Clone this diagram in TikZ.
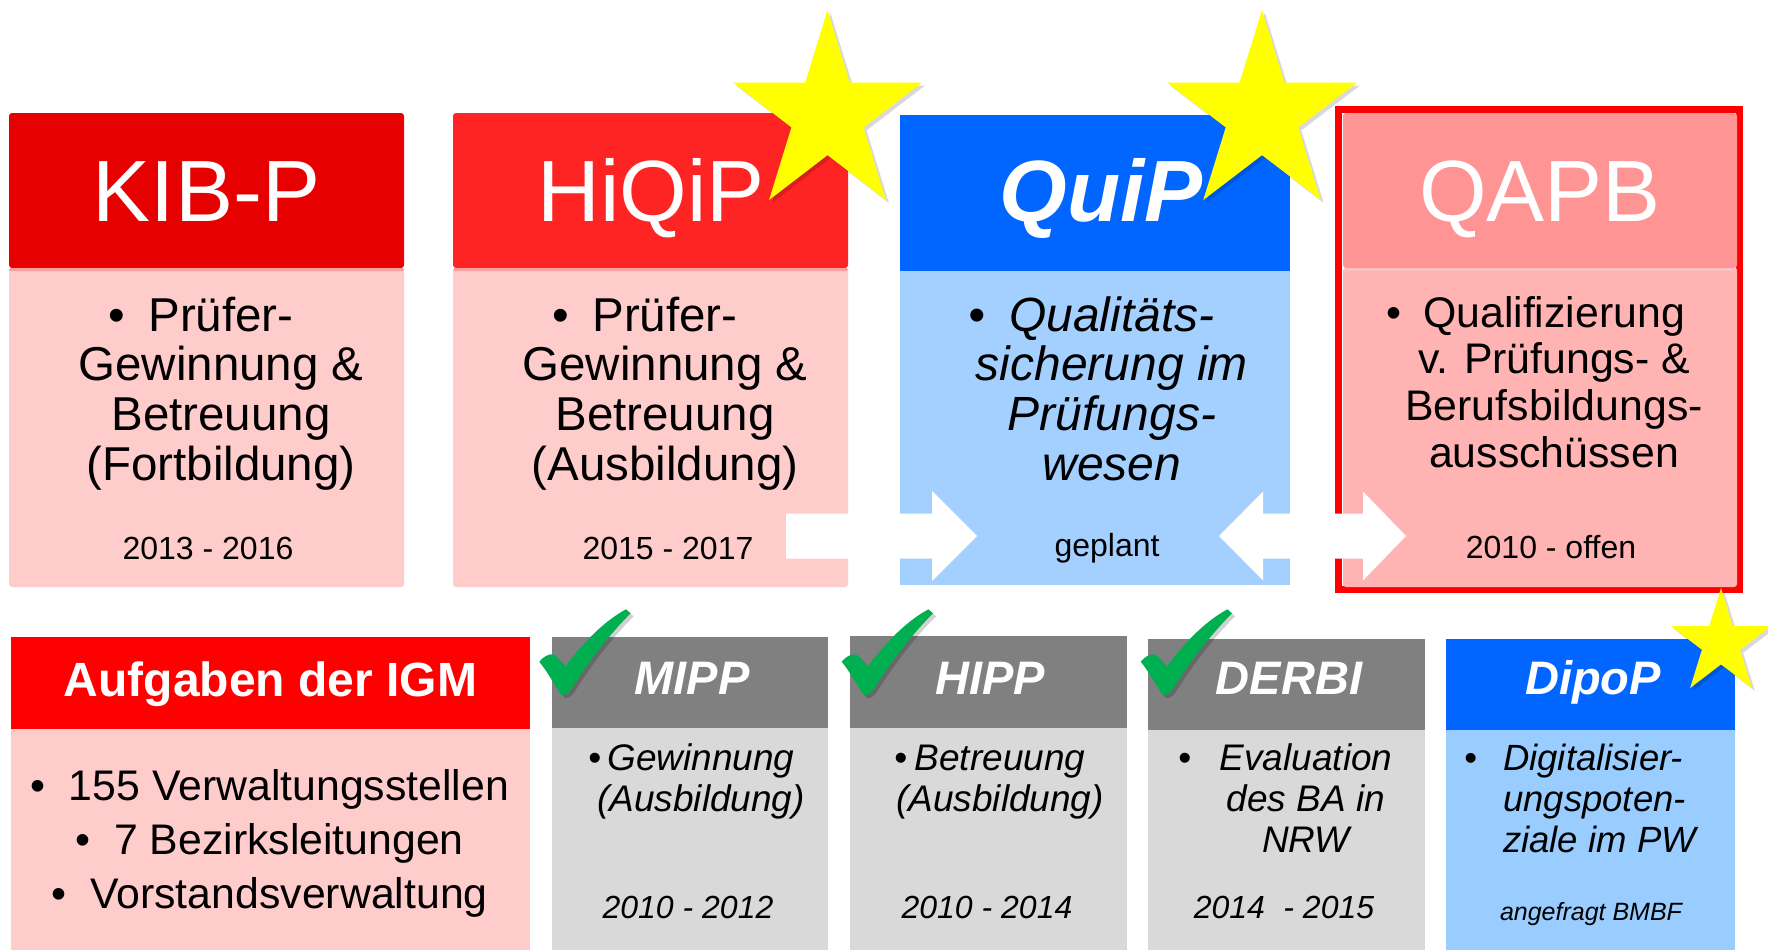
\documentclass[tikz,border=0pt]{standalone}
\usepackage{fontspec}
\setmainfont{Liberation Sans}
\usetikzlibrary{calc}
\definecolor{cKibH}{HTML}{E60000}
\definecolor{cPink}{HTML}{FFCCCC}
\definecolor{cHiqH}{HTML}{FF2424}
\definecolor{cStrip}{HTML}{F6A0A0}
\definecolor{cBlue}{HTML}{0066FF}
\definecolor{cQuipB}{HTML}{A4D0FF}
\definecolor{cDipB}{HTML}{99CCFF}
\definecolor{cQapH}{HTML}{FF9494}
\definecolor{cQapB}{HTML}{FFB3B3}
\definecolor{cQapStrip}{HTML}{FFC2C2}
\definecolor{cRed}{HTML}{FF0000}
\definecolor{cGrayH}{HTML}{808080}
\definecolor{cGrayB}{HTML}{D9D9D9}
\definecolor{cStar}{HTML}{FFFF00}
\definecolor{cCheck}{HTML}{00B050}
\newcommand\st{\rule{0pt}{1em}}
\newcommand\bul[1]{\llap{\textbullet\hspace{#1}}}
\newcommand\mystar[4]{%
  \begin{scope}[shift={(#1+3,#2+3)},x=#3pt,y=-#4pt]
    \fill[black,opacity=0.15] (0.5,0) -- (0.618,0.382) -- (1,0.382) -- (0.691,0.618) -- (0.809,1) -- (0.5,0.764) -- (0.191,1) -- (0.309,0.618) -- (0,0.382) -- (0.382,0.382) -- cycle;
  \end{scope}
  \begin{scope}[shift={(#1,#2)},x=#3pt,y=-#4pt]
    \fill[cStar] (0.5,0) -- (0.618,0.382) -- (1,0.382) -- (0.691,0.618) -- (0.809,1) -- (0.5,0.764) -- (0.191,1) -- (0.309,0.618) -- (0,0.382) -- (0.382,0.382) -- cycle;
  \end{scope}}
\newcommand\mycheck[2]{%
  \begin{scope}[shift={(#1+3,#2+3)}]
    \fill[black,opacity=0.18] (0,0) .. controls (4,-5) and (9,-7.5) .. (13,-7.5) .. controls (17,-7) and (21,-1) .. (25.7,5) .. controls (45,-20) and (64,-40) .. (86.7,-52.4) -- (91.3,-48.4) .. controls (68,-25) and (48,2) .. (33,26) .. controls (30,31) and (27,33.5) .. (22.3,33.5) .. controls (16,25) and (9,11) .. cycle;
  \end{scope}
  \begin{scope}[shift={(#1,#2)}]
    \fill[cCheck] (0,0) .. controls (4,-5) and (9,-7.5) .. (13,-7.5) .. controls (17,-7) and (21,-1) .. (25.7,5) .. controls (45,-20) and (64,-40) .. (86.7,-52.4) -- (91.3,-48.4) .. controls (68,-25) and (48,2) .. (33,26) .. controls (30,31) and (27,33.5) .. (22.3,33.5) .. controls (16,25) and (9,11) .. cycle;
  \end{scope}}
\begin{document}
\begin{tikzpicture}[x=1pt,y=-1pt,
  blk/.style={rectangle,anchor=north west,inner sep=0pt,outer sep=0pt,draw=none},
  rblk/.style={blk,rounded corners=3pt},
  ttl/.style={anchor=base,inner sep=0pt,text=white,font=\fontsize{87}{87}\selectfont},
  ttlb/.style={anchor=base,inner sep=0pt,text=white,font=\fontsize{47}{47}\selectfont\bfseries\itshape},
  bodyA/.style={anchor=north,inner sep=0pt,align=center,font=\fontsize{47.5}{49.7}\selectfont},
  yr/.style={anchor=base,inner sep=0pt,font=\fontsize{32}{32}\selectfont},
  arrowfill/.style={fill=white}]
\fill[white] (0,0) rectangle (1768,950);
\useasboundingbox (0,0) rectangle (1768,950);
% ---------- top row
\node[rblk,fill=cKibH,minimum width=395pt,minimum height=155pt] (kibH) at (9,113) {};
\node[rblk,fill=cPink,minimum width=395pt,minimum height=319pt] (kibB) at (9,268) {};
\node[rblk,fill=cHiqH,minimum width=395pt,minimum height=155pt] (hiqH) at (453,113) {};
\node[rblk,fill=cPink,minimum width=395pt,minimum height=319pt] (hiqB) at (453,268) {};
\node[blk,fill=cBlue,minimum width=390pt,minimum height=156pt] (quipH) at (900,115) {};
\node[blk,fill=cQuipB,minimum width=390pt,minimum height=314pt] (quipB) at (900,271) {};
\node[blk,draw=cRed,line width=7pt,minimum width=401pt,minimum height=480pt] (qapF) at (1338.5,109.5) {};
\node[rblk,fill=cQapH,minimum width=394pt,minimum height=155pt] (qapH) at (1343,113) {};
\node[rblk,fill=cQapB,minimum width=394pt,minimum height=319pt] (qapB) at (1343,268) {};
\fill[cStrip,rounded corners=1.5pt] (kibB.north west) rectangle ++(395,3);
\fill[cStrip,rounded corners=1.5pt] (hiqB.north west) rectangle ++(395,3);
\fill[cQapStrip,rounded corners=1.5pt] (qapB.north west) rectangle ++(394,3);
% ---------- bottom row
\node[blk,fill=cRed,minimum width=519pt,minimum height=92pt] (aufH) at (11,637) {};
\node[blk,fill=cPink,minimum width=519pt,minimum height=221pt] (aufB) at (11,729) {};
\node[blk,fill=cGrayH,minimum width=276pt,minimum height=91pt] (mippH) at (552,637) {};
\node[blk,fill=cGrayB,minimum width=276pt,minimum height=222pt] (mippB) at (552,728) {};
\node[blk,fill=cGrayH,minimum width=277pt,minimum height=92pt] (hippH) at (850,636) {};
\node[blk,fill=cGrayB,minimum width=277pt,minimum height=222pt] (hippB) at (850,728) {};
\node[blk,fill=cGrayH,minimum width=277pt,minimum height=91pt] (derbiH) at (1148,639) {};
\node[blk,fill=cGrayB,minimum width=277pt,minimum height=220pt] (derbiB) at (1148,730) {};
\node[blk,fill=cBlue,minimum width=289pt,minimum height=91pt] (dipH) at (1446,639) {};
\node[blk,fill=cDipB,minimum width=289pt,minimum height=220pt] (dipB) at (1446,730) {};
% ---------- arrows
\coordinate (a1s) at (786,536);
\coordinate (a1e) at (977,536);
\fill[arrowfill] ($(a1s)+(0,-22.5)$) -- ($(a1e)+(-45,-22.5)$) -- ($(a1e)+(-45,-45)$) -- (a1e) -- ($(a1e)+(-45,45)$) -- ($(a1e)+(-45,22.5)$) -- ($(a1s)+(0,22.5)$) -- cycle;
\coordinate (a2s) at (1219,536);
\coordinate (a2e) at (1406,536);
\fill[arrowfill] (a2s) -- ($(a2s)+(44,-44.5)$) -- ($(a2s)+(44,-22.5)$) -- ($(a2e)+(-43,-22.5)$) -- ($(a2e)+(-43,-44.5)$) -- (a2e) -- ($(a2e)+(-43,44.5)$) -- ($(a2e)+(-43,22.5)$) -- ($(a2s)+(44,22.5)$) -- ($(a2s)+(44,44.5)$) -- cycle;
% ---------- titles
\node[ttl] (kibT) at (206.5,221) {KIB-P};
\node[ttl] (hiqT) at (651,221) {HiQiP};
\node[ttl,font=\fontsize{87}{87}\selectfont\bfseries\itshape] (quipT) at (1101,221) {QuiP};
\node[ttl] (qapT) at (1540,221) {QAPB};
\node[ttlb,font=\fontsize{48}{48}\selectfont\bfseries] (aufT) at (270.5,696) {Aufgaben der IGM};
\node[ttlb] (mippT) at (692,694) {MIPP};
\node[ttlb] (hippT) at (990,694) {HIPP};
\node[ttlb] (derbiT) at (1289,694) {DERBI};
\node[ttlb] (dipT) at (1593,694) {DipoP};
% ---------- body texts
\node[bodyA] (kibX) at (221,283.5) {\bul{0.5em}\st Prüfer-\\Gewinnung \&\\Betreuung\\(Fortbildung)};
\node[bodyA] (hiqX) at (665,283.5) {\bul{0.5em}\st Prüfer-\\Gewinnung \&\\Betreuung\\(Ausbildung)};
\node[bodyA,font=\fontsize{48}{49.7}\selectfont\itshape] (quipX) at (1112,283) {\bul{0.5em}\st Qualitäts-\\sicherung im\\Prüfungs-\\wesen};
\node[bodyA,font=\fontsize{42.8}{46.7}\selectfont] (qapX) at (1554,284.2) {\bul{0.5em}\st Qualifizierung\\v. Prüfungs- \&\\Berufsbildungs-\\ausschüssen};
\node[bodyA,font=\fontsize{42.8}{54}\selectfont] (aufX) at (289,757.2) {\bul{0.55em}\st 155 Verwaltungsstellen\\\bul{0.55em}7 Bezirksleitungen\\\bul{0.55em}Vorstandsverwaltung};
\node[bodyA,font=\fontsize{37}{41}\selectfont\itshape] (mippX) at (701,733) {\bul{0.15em}\st Gewinnung\\(Ausbildung)};
\node[bodyA,font=\fontsize{37}{41}\selectfont\itshape] (hippX) at (1000,733) {\bul{0.2em}\st Betreuung\\(Ausbildung)};
\node[bodyA,font=\fontsize{37}{41}\selectfont\itshape] (derbiX) at (1306,733) {\bul{0.75em}\st Evaluation\\des BA in\\NRW};
\node[bodyA,anchor=north west,align=left,font=\fontsize{36.5}{41}\selectfont\itshape] (dipX) at (1503,733.5) {\bul{0.7em}\st Digitalisier-\\ungspoten-\\ziale im PW};
% ---------- years
\node[yr] (kibY) at (208,559) {2013 - 2016};
\node[yr] (hiqY) at (668,559) {2015 - 2017};
\node[yr] (quipY) at (1107,556) {geplant};
\node[yr] (qapY) at (1551,558) {2010 - offen};
\node[yr,font=\fontsize{32}{32}\selectfont\itshape] (mippY) at (688,918) {2010 - 2012};
\node[yr,font=\fontsize{32}{32}\selectfont\itshape] (hippY) at (987,918) {2010 - 2014};
\node[yr,font=\fontsize{32}{32}\selectfont\itshape] (derbiY) at (1284,918) {2014\hspace{0.3em} - 2015};
\node[yr,font=\fontsize{25}{25}\selectfont\itshape] (dipY) at (1591,920) {angefragt BMBF};
% ---------- stars and checks
\mystar{733}{10}{189}{190}
\mystar{1167}{10}{190}{190}
\mystar{1671}{588}{100}{100}
\mycheck{539.3}{661.7}
\mycheck{841.7}{661.7}
\mycheck{1140.7}{661.7}
\end{tikzpicture}
\end{document}
